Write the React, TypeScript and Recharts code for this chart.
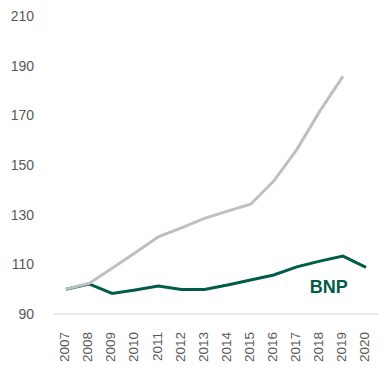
import React from 'react';
import { LineChart, Line, XAxis, YAxis, LabelList } from 'recharts';

const years = ['2007','2008','2009','2010','2011','2012','2013','2014','2015','2016','2017','2018','2019','2020'];
const otherSeries: (number | null)[] = [100, 102.3, 108.4, 114.7, 121.1, 124.7, 128.5, 131.4, 134.2, 143.5, 156.2, 171.7, 185.7, null];
const bnpSeries: number[] = [100, 102.1, 98.3, 99.7, 101.3, 99.9, 99.9, 101.7, 103.7, 105.7, 109.0, 111.3, 113.3, 108.8];
const yTicks = [90, 110, 130, 150, 170, 190, 210];
const bnpLabel = 'BNP';
const bnpLabelIndex = 11;

const data = years.map((y, i) => ({ year: y, other: otherSeries[i], bnp: bnpSeries[i] }));

const FONT = '"Liberation Sans", Arial, sans-serif';

const XTick = (props: any) => {
  const { x, y, payload } = props;
  return (
    <text
      x={0}
      y={0}
      transform={`translate(${x - 1.5},${y + 10}) rotate(-90)`}
      textAnchor="end"
      dy="0.35em"
      fontSize={13.5}
      fontFamily={FONT}
      fill="#595959"
    >
      {payload.value}
    </text>
  );
};

const BnpLabel = (props: any) => {
  const { x, y, index } = props;
  if (index !== bnpLabelIndex) return null;
  return (
    <text
      x={x + 9}
      y={y + 32}
      textAnchor="middle"
      fontSize={18}
      fontWeight="bold"
      fontFamily={FONT}
      fill="#005C48"
    >
      {bnpLabel}
    </text>
  );
};

export default function App() {
  return (
    <div style={{ position: 'absolute', left: 0, top: 0, width: 389, height: 370, background: '#fff' }}>
      <LineChart width={389} height={370} data={data} margin={{ top: 16, right: 11, bottom: 0, left: 0 }}>
        <XAxis
          dataKey="year"
          height={56}
          padding={{ left: 12, right: 12 }}
          axisLine={{ stroke: '#D9D9D9', strokeWidth: 1 }}
          tickLine={false}
          tick={<XTick />}
          interval={0}
        />
        <YAxis
          width={54}
          domain={[90, 210]}
          ticks={yTicks}
          axisLine={false}
          tickLine={false}
          tickSize={0}
          tickMargin={20}
          tick={{ fontSize: 14, fontFamily: FONT, fill: '#595959' }}
        />
        <Line
          dataKey="bnp"
          stroke="#005C48"
          strokeWidth={3}
          dot={false}
          isAnimationActive={false}
        >
          <LabelList dataKey="bnp" content={<BnpLabel />} />
        </Line>
        <Line
          dataKey="other"
          stroke="#BFBFBF"
          strokeWidth={3}
          dot={false}
          isAnimationActive={false}
          connectNulls={false}
        />
      </LineChart>
    </div>
  );
}
